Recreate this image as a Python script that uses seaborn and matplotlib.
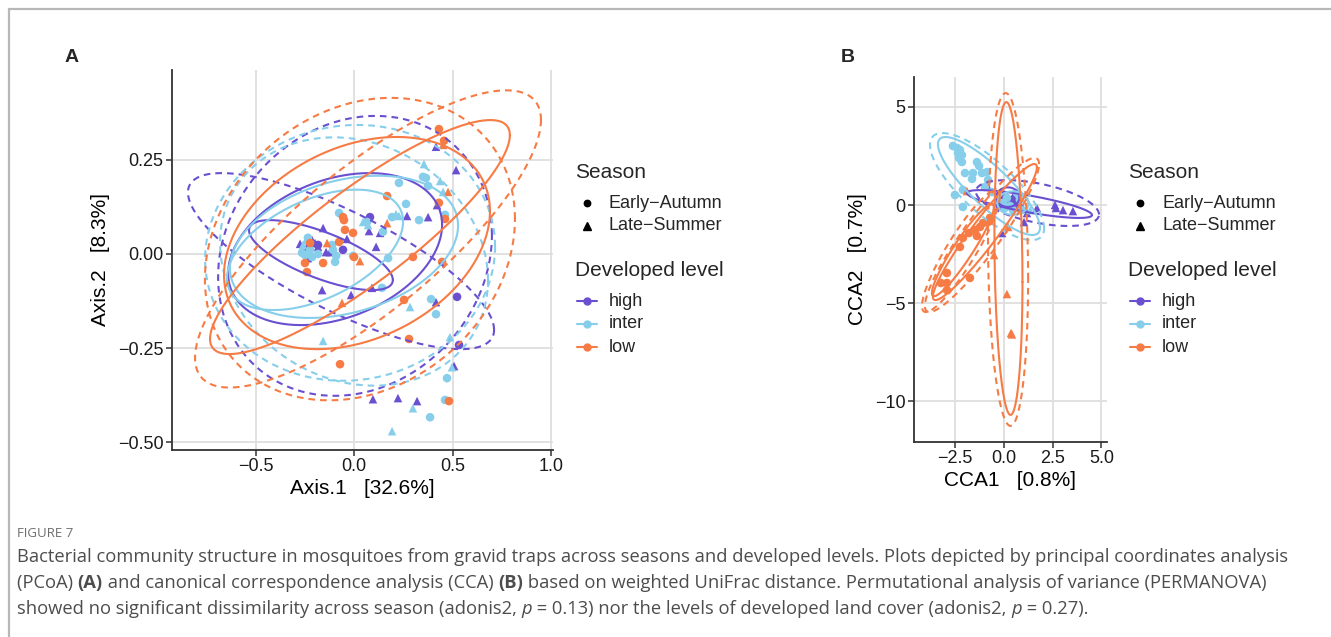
import numpy as np
import pandas as pd
import matplotlib
matplotlib.use("Agg")
import matplotlib.pyplot as plt
import seaborn as sns
from matplotlib.lines import Line2D

# ------------------------------------------------------------------ data
LEVELS = ["high", "inter", "low"]
SEASONS = ["Early\u2212Autumn", "Late\u2212Summer"]
COLORS = ["#6A50D0", "#87CEEB", "#F77B44"]

# ---- Panel A : PCoA (Axis.1, Axis.2) ----
a_high_late_x = [0.416, 0.518, 0.421, 0.376, 0.269, 0.076, 0.132, -0.157, 0.112, -0.198, -0.239, -0.183,
                 -0.122, -0.142, -0.234, -0.036, -0.162, -0.015, 0.091, 0.416, 0.508, 0.096, 0.223, 0.320,
                 -0.274, -0.213]
a_high_late_y = [0.285, 0.223, 0.130, 0.098, 0.101, 0.061, 0.056, 0.069, 0.019, 0.029, 0.019, 0.019,
                 0.005, 0.005, -0.011, 0.040, -0.096, -0.109, -0.090, -0.128, -0.298, -0.386, -0.383, -0.391,
                 0.027, 0.037]
a_high_early_x = [0.081, -0.056, 0.523, 0.533, -0.183]
a_high_early_y = [0.098, 0.011, -0.114, -0.242, 0.024]

a_inter_late_x = [0.355, 0.437, 0.452, 0.228, 0.046, 0.071, 0.213, -0.259, 0.284, -0.157, 0.487, 0.497,
                  0.299, 0.193, -0.244]
a_inter_late_y = [0.239, 0.194, 0.165, 0.101, 0.085, 0.077, 0.106, 0.024, -0.141, -0.231, -0.221, -0.301,
                  -0.410, -0.471, 0.037]
a_inter_early_x = [0.350, 0.365, 0.228, 0.376, 0.264, 0.462, 0.330, 0.193, -0.076, 0.066, 0.147, -0.234,
                   -0.112, -0.107, -0.264, -0.249, -0.213, -0.183, -0.091, -0.005, 0.173, -0.096, 0.142,
                   0.391, 0.416, 0.472, 0.462, 0.386, -0.223]
a_inter_early_y = [0.205, 0.202, 0.189, 0.181, 0.133, 0.104, 0.090, 0.098, 0.109, 0.085, 0.059, 0.043,
                   0.024, 0.011, 0.003, -0.003, -0.008, 0.000, -0.005, -0.005, -0.011, -0.021, -0.090,
                   -0.120, -0.160, -0.330, -0.388, -0.434, 0.011]

a_low_late_x = [0.452, 0.477, 0.168, -0.137, 0.030, -0.061]
a_low_late_y = [0.290, 0.165, 0.082, 0.029, -0.019, -0.130]
a_low_early_x = [0.431, 0.457, 0.168, 0.431, 0.462, -0.056, -0.051, -0.046, -0.005, -0.223, -0.076,
                 -0.249, -0.239, -0.157, 0.000, 0.299, 0.447, 0.254, 0.279, -0.071, 0.482]
a_low_early_y = [0.332, 0.301, 0.154, 0.136, 0.093, 0.098, 0.090, 0.064, 0.056, 0.029, 0.032,
                 -0.024, -0.048, -0.024, -0.008, -0.008, -0.021, -0.122, -0.226, -0.293, -0.391]

# ellipses of panel A: level, dashed, centre, half extents, correlation
a_ell_level = ["high", "high", "high", "high", "inter", "inter", "inter", "inter", "low", "low", "low", "low"]
a_ell_dashed = [False, False, True, True, False, False, True, True, False, False, True, True]
a_ell_cx = [-0.168, -0.096, -0.066, 0.005, -0.051, -0.198, -0.020, 0.000, 0.015, 0.030, 0.071, 0.030]
a_ell_cy = [-0.003, 0.013, -0.019, -0.005, 0.019, 0.011, 0.003, -0.020, 0.029, 0.045, 0.040, 0.013]
a_ell_sx = [0.365, 0.543, 0.777, 0.695, 0.579, 0.447, 0.736, 0.680, 0.675, 0.761, 0.878, 0.787]
a_ell_sy = [0.093, 0.202, 0.234, 0.372, 0.189, 0.160, 0.340, 0.330, 0.282, 0.311, 0.395, 0.402]
a_ell_r = [-0.71, 0.32, -0.78, 0.15, 0.30, 0.47, 0.05, -0.15, 0.30, 0.87, 0.80, 0.20]

# ---- Panel B : CCA (CCA1, CCA2) ----
b_high_late_x = [1.69, 2.62, 2.67, 3.03, 3.54, 1.18, 1.03, -0.10, -0.87, 0.15, 0.56, -0.05]
b_high_late_y = [-0.15, 0.00, -0.15, -0.26, -0.31, -0.41, -0.87, -1.43, 1.02, 0.41, 0.61, 0.51]
b_high_early_x = [0.41, 0.67, 0.21, -0.21, 0.82]
b_high_early_y = [0.26, 0.00, 0.10, -0.05, -0.15]

b_inter_late_x = [1.34, 0.82, -0.31]
b_inter_late_y = [-0.26, 0.51, 0.26]
b_inter_early_x = [-2.62, -2.41, -2.26, -2.36, -2.16, -2.31, -2.16, -1.39, -1.28, -2.00, -1.59, -1.13,
                   -0.87, -0.82, -1.64, -2.11, -0.98, -2.52, -2.11, -0.62, 0.15, 0.67, -0.05, 0.31,
                   0.82, 0.46, 0.05, 0.92]
b_inter_early_y = [3.01, 2.91, 2.81, 2.65, 2.55, 2.40, 2.19, 2.19, 1.99, 1.63, 1.63, 1.63,
                   1.68, 1.28, 1.33, 0.77, 0.92, 0.51, -0.10, 0.66, 0.36, 0.61, 0.10, -0.05,
                   0.26, -0.26, -0.15, -0.26]

b_low_late_x = [-0.51, 0.15, 0.36, 0.21, -1.90, 0.41]
b_low_late_y = [-2.55, -4.54, -6.53, -1.12, 0.71, -6.60]
b_low_early_x = [-2.11, -1.80, -1.49, -1.23, -1.08, -0.82, -0.72, -2.26, -1.39, -2.93, -3.24, -2.93,
                 -2.93, -1.75]
b_low_early_y = [-1.68, -1.43, -1.28, -1.12, -0.92, -0.87, -0.66, -2.14, -1.58, -3.47, -3.98, -3.98,
                 -4.34, -3.72]

b_ell_level = ["high", "high", "high", "inter", "inter", "inter", "low", "low", "low", "low", "low", "low"]
b_ell_dashed = [False, True, False, False, True, False, False, True, False, True, False, True]
b_ell_cx = [1.31, 1.72, 0.20, -0.77, -0.87, 0.46, 0.23, 0.21, -2.11, -2.21, -0.98, -1.13]
b_ell_cy = [0.05, 0.10, 0.40, 0.97, 0.94, 0.10, -2.73, -2.78, -2.30, -2.35, -1.38, -1.53]
b_ell_sx = [3.21, 3.16, 0.60, 2.62, 2.93, 0.80, 0.72, 1.03, 1.59, 2.00, 2.67, 2.93]
b_ell_sy = [0.71, 1.17, 0.50, 2.50, 2.73, 0.60, 7.98, 8.49, 2.35, 3.11, 3.47, 3.93]
b_ell_r = [-0.79, -0.50, 0.00, -0.85, -0.78, 0.00, -0.15, -0.12, 0.93, 0.90, 0.95, 0.92]

# ticks / labels
a_xticks = [-0.5, 0.0, 0.5, 1.0]
a_xticklabels = ["\u22120.5", "0.0", "0.5", "1.0"]
a_yticks = [-0.50, -0.25, 0.00, 0.25]
a_yticklabels = ["\u22120.50", "\u22120.25", "0.00", "0.25"]
b_xticks = [-2.5, 0.0, 2.5, 5.0]
b_xticklabels = ["\u22122.5", "0.0", "2.5", "5.0"]
b_yticks = [-10, -5, 0, 5]
b_yticklabels = ["\u221210", "\u22125", "0", "5"]

# ------------------------------------------------------------------ helpers
def points_frame(prefix):
    g = globals()
    rows = []
    for lev in LEVELS:
        for key, sea in (("early", SEASONS[0]), ("late", SEASONS[1])):
            xs = g[f"{prefix}_{lev}_{key}_x"]
            ys = g[f"{prefix}_{lev}_{key}_y"]
            for x, y in zip(xs, ys):
                rows.append((x, y, lev, sea))
    return pd.DataFrame(rows, columns=["x", "y", "level", "season"])


def ellipse_frame(levels, dashed, cx, cy, sx, sy, r):
    t = np.linspace(0, 2 * np.pi, 240)
    rows = []
    for i in range(len(levels)):
        ex = cx[i] + sx[i] * np.cos(t)
        ey = cy[i] + sy[i] * (r[i] * np.cos(t) + np.sqrt(1 - r[i] ** 2) * np.sin(t))
        for xx, yy in zip(ex, ey):
            rows.append((i, levels[i], dashed[i], xx, yy))
    return pd.DataFrame(rows, columns=["id", "level", "dashed", "x", "y"])


# ------------------------------------------------------------------ style
sns.set_style("white")
plt.rcParams["font.family"] = ["Liberation Sans", "DejaVu Sans"]
plt.rcParams["axes.unicode_minus"] = True

W, H = 1331, 637
fig = plt.figure(figsize=(W / 100, H / 100), dpi=100)
fig.patch.set_facecolor("white")

pal = dict(zip(LEVELS, COLORS))
GRID = "#DEDEDE"
AX = "#333333"


def style_axes(ax, xticks, xtl, yticks, ytl, xlim, ylim, xlabel, ylabel):
    ax.set_xlim(*xlim)
    ax.set_ylim(*ylim)
    ax.set_xticks(xticks)
    ax.set_xticklabels(xtl)
    ax.set_yticks(yticks)
    ax.set_yticklabels(ytl)
    ax.grid(True, color=GRID, lw=1.3, zorder=0)
    ax.set_axisbelow(True)
    for s in ("top", "right"):
        ax.spines[s].set_visible(False)
    for s in ("left", "bottom"):
        ax.spines[s].set_color(AX)
        ax.spines[s].set_linewidth(1.3)
    ax.tick_params(axis="both", length=4, width=1.1, color=AX, labelsize=13, labelcolor="#1a1a1a", pad=2,
                   left=True, bottom=True)
    ax.set_xlabel(xlabel, fontsize=15, color="black", labelpad=3)
    ax.set_ylabel(ylabel, fontsize=15, color="black", labelpad=6)


def draw_panel(ax, prefix, ell):
    df = points_frame(prefix)
    sns.scatterplot(data=df, x="x", y="y", hue="level", hue_order=LEVELS, palette=pal,
                    style="season", style_order=SEASONS, markers=["o", "^"], s=38,
                    linewidth=0, legend=False, ax=ax, zorder=3)
    edf = ellipse_frame(*ell)
    for i, g in edf.groupby("id"):
        ls = (0, (3.2, 2.4)) if g["dashed"].iloc[0] else "-"
        ax.plot(g["x"], g["y"], color=pal[g["level"].iloc[0]], lw=1.5, ls=ls, zorder=4)


axA = fig.add_axes([172 / W, 1 - 450 / H, (553 - 172) / W, (450 - 70) / H])
draw_panel(axA, "a", (a_ell_level, a_ell_dashed, a_ell_cx, a_ell_cy, a_ell_sx, a_ell_sy, a_ell_r))
style_axes(axA, a_xticks, a_xticklabels, a_yticks, a_yticklabels, (-0.924, 1.01), (-0.521, 0.489),
           "Axis.1   [32.6%]", "Axis.2   [8.3%]")

axB = fig.add_axes([914 / W, 1 - 442 / H, (1107 - 914) / W, (442 - 77) / H])
draw_panel(axB, "b", (b_ell_level, b_ell_dashed, b_ell_cx, b_ell_cy, b_ell_sx, b_ell_sy, b_ell_r))
style_axes(axB, b_xticks, b_xticklabels, b_yticks, b_yticklabels, (-4.62, 5.29), (-12.09, 6.53),
           "CCA1   [0.8%]", "CCA2   [0.7%]")


# legends (drawn as figure artists at pixel positions)
def fx(px):
    return px / W


def fy(py):
    return 1 - py / H


def add_legend(x0):
    # x0: left edge of legend titles in pixels
    mk_x = x0 + 12
    tx = x0 + 34
    fig.text(fx(x0), fy(172), "Season", fontsize=15, va="center", ha="left")
    for (mk, ms), lab, yy in zip([("o", 4.6), ("^", 5.2)], SEASONS, [203, 226]):
        fig.add_artist(Line2D([fx(mk_x)], [fy(yy)], transform=fig.transFigure, marker=mk, ms=ms,
                              color="black", ls="None"))
        fig.text(fx(tx), fy(yy), lab, fontsize=13, va="center", ha="left")
    fig.text(fx(x0), fy(270), "Developed level", fontsize=15, va="center", ha="left")
    for c, lab, yy in zip(COLORS, LEVELS, [301, 324, 347]):
        fig.add_artist(Line2D([fx(x0 + 2), fx(x0 + 22)], [fy(yy), fy(yy)], transform=fig.transFigure,
                              color=c, lw=1.5))
        fig.add_artist(Line2D([fx(mk_x)], [fy(yy)], transform=fig.transFigure, marker="o", ms=5,
                              color=c, ls="None"))
        fig.text(fx(tx), fy(yy), lab, fontsize=13, va="center", ha="left")


add_legend(575)
add_legend(1128)

# panel tags
fig.text(fx(65), fy(58), "A", fontsize=14, weight="bold", va="center", ha="left")
fig.text(fx(841), fy(58), "B", fontsize=14, weight="bold", va="center", ha="left")

# frame lines of the figure page
fig.add_artist(Line2D([fx(9), 1], [fy(9), fy(9)], transform=fig.transFigure, color="#B8B8B8", lw=1.6))
fig.add_artist(Line2D([fx(9), fx(9)], [0, fy(9)], transform=fig.transFigure, color="#B8B8B8", lw=1.6))

# caption
CAP_FONT = ["Open Sans", "DejaVu Sans"]
CAP_COLOR = "#4d4d4d"
fig.text(fx(17), fy(537), "FIGURE 7", fontsize=9.5, color="#6d6d6d", family=CAP_FONT, va="baseline")

caption_lines = [
    [("Bacterial community structure in mosquitoes from gravid traps across seasons and developed levels. "
      "Plots depicted by principal coordinates analysis", "normal", "normal")],
    [("(PCoA) ", "normal", "normal"), ("(A)", "bold", "normal"),
     (" and canonical correspondence analysis (CCA) ", "normal", "normal"), ("(B)", "bold", "normal"),
     (" based on weighted UniFrac distance. Permutational analysis of variance (PERMANOVA)", "normal", "normal")],
    [("showed no significant dissimilarity across season (adonis2, ", "normal", "normal"), ("p", "normal", "italic"),
     (" = 0.13) nor the levels of developed land cover (adonis2, ", "normal", "normal"), ("p", "normal", "italic"),
     (" = 0.27).", "normal", "normal")],
]
renderer = fig.canvas.get_renderer()
for k, segs in enumerate(caption_lines):
    ybase = fy(562.5 + 25.8 * k)
    cur = 17.0
    for txt, wt, st in segs:
        t = fig.text(fx(cur), ybase, txt, fontsize=13.2, color=CAP_COLOR, family=CAP_FONT,
                     weight=wt, style=st, va="baseline", ha="left")
        bb = t.get_window_extent(renderer)
        cur = bb.x1

fig.savefig("out.png", dpi=100, facecolor="white")
